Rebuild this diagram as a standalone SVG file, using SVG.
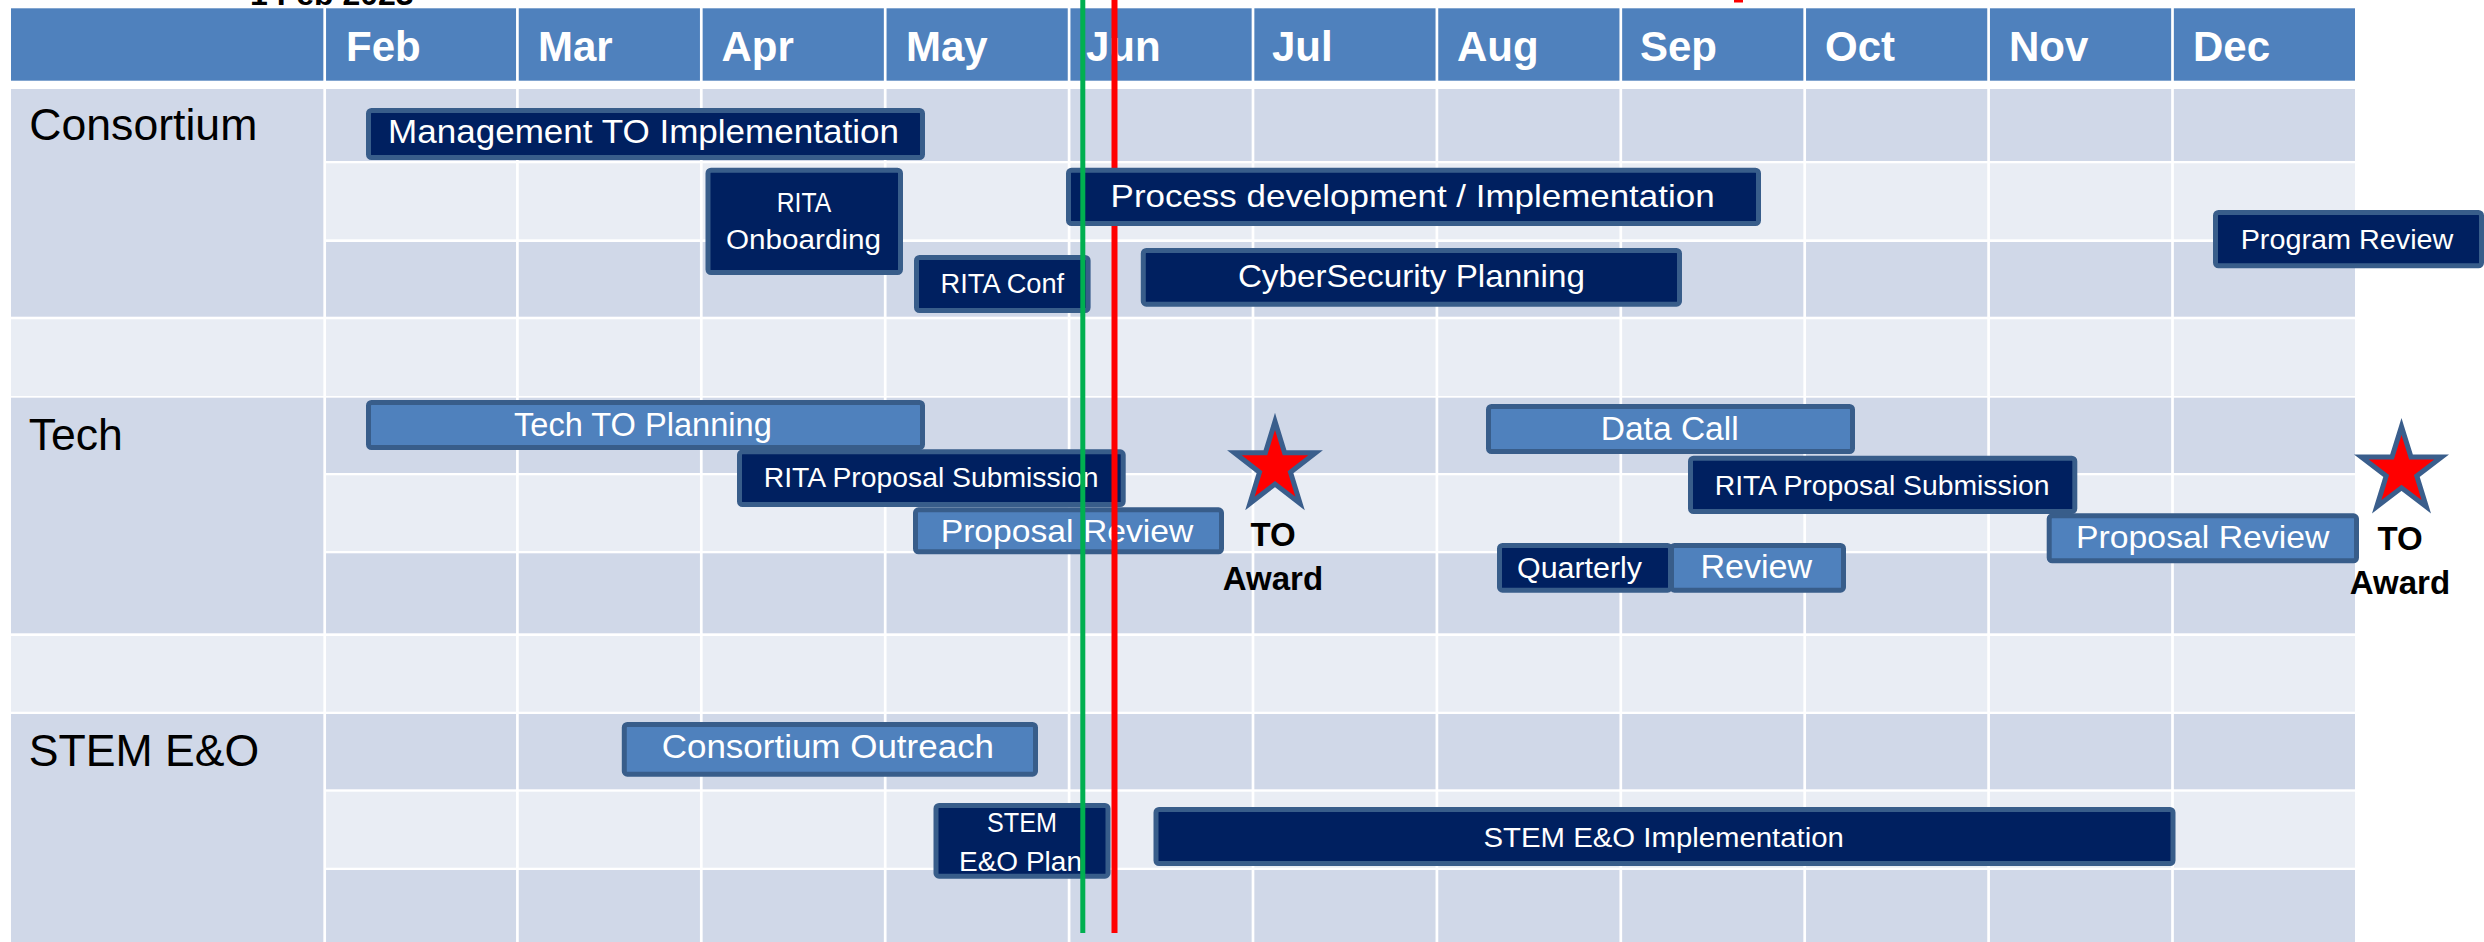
<svg xmlns="http://www.w3.org/2000/svg" width="2484" height="942" viewBox="0 0 2484 942">
<style>
.hdr{fill:#4F81BD}
.dk{fill:#D0D8E8}
.lt{fill:#E9EDF4}
.vl{stroke:#FFFFFF;stroke-width:2.7}
.mon{font-family:'Liberation Sans',Arial,sans-serif;font-weight:bold;font-size:42px;fill:#FFFFFF}
.sec{font-family:'Liberation Sans',Arial,sans-serif;font-size:44.6px;fill:#000000}
.nv{fill:#002060;stroke:#385D8A;stroke-width:5}
.bl{fill:#4F81BD;stroke:#385D8A;stroke-width:5}
.bt{font-family:'Liberation Sans',Arial,sans-serif;fill:#FFFFFF;text-anchor:middle}
.star{fill:#FF0000;stroke:#3A5E8C;stroke-width:5;stroke-linejoin:miter}
.aw{font-family:'Liberation Sans',Arial,sans-serif;font-weight:bold;font-size:33px;fill:#000000;text-anchor:middle}
</style>
<rect x="0" y="0" width="2484" height="942" fill="#FFFFFF"/>
<text x="250" y="5" style="font-family:'Liberation Sans',Arial,sans-serif;font-weight:bold;font-size:32px" fill="#000000">1 Feb 2023</text>
<rect x="1734" y="0" width="9" height="2.5" fill="#FF0000"/>
<g id="grid">
<rect class="hdr" x="11" y="8.3" width="2344" height="72.4"/>
<rect class="dk" x="11" y="89" width="313.7" height="227.7"/>
<rect class="dk" x="324.7" y="89" width="2030.3" height="72"/>
<rect class="lt" x="324.7" y="163.3" width="2030.3" height="76"/>
<rect class="dk" x="324.7" y="242" width="2030.3" height="74.7"/>
<rect class="lt" x="11" y="319.3" width="2344" height="76.7"/>
<rect class="dk" x="11" y="397.7" width="313.7" height="235.6"/>
<rect class="dk" x="324.7" y="397.7" width="2030.3" height="75.3"/>
<rect class="lt" x="324.7" y="475.3" width="2030.3" height="75.7"/>
<rect class="dk" x="324.7" y="553.3" width="2030.3" height="80"/>
<rect class="lt" x="11" y="636" width="2344" height="75.7"/>
<rect class="dk" x="11" y="714" width="313.7" height="228"/>
<rect class="dk" x="324.7" y="714" width="2030.3" height="75.3"/>
<rect class="lt" x="324.7" y="791.7" width="2030.3" height="76"/>
<rect class="dk" x="324.7" y="870" width="2030.3" height="72"/>
<g class="vl">
<line x1="324.7" y1="8" x2="324.7" y2="942"/>
<line x1="517.4" y1="8" x2="517.4" y2="942"/>
<line x1="701.3" y1="8" x2="701.3" y2="942"/>
<line x1="885.2" y1="8" x2="885.2" y2="942"/>
<line x1="1069.1" y1="8" x2="1069.1" y2="942"/>
<line x1="1253" y1="8" x2="1253" y2="942"/>
<line x1="1436.9" y1="8" x2="1436.9" y2="942"/>
<line x1="1620.8" y1="8" x2="1620.8" y2="942"/>
<line x1="1804.7" y1="8" x2="1804.7" y2="942"/>
<line x1="1988.6" y1="8" x2="1988.6" y2="942"/>
<line x1="2172.5" y1="8" x2="2172.5" y2="942"/>
</g>
<text class="mon" x="346" y="61">Feb</text>
<text class="mon" x="538" y="61">Mar</text>
<text class="mon" x="721.5" y="61">Apr</text>
<text class="mon" x="906" y="61">May</text>
<text class="mon" x="1086" y="61">Jun</text>
<text class="mon" x="1272" y="61">Jul</text>
<text class="mon" x="1457" y="61">Aug</text>
<text class="mon" x="1640" y="61">Sep</text>
<text class="mon" x="1825" y="61">Oct</text>
<text class="mon" x="2009" y="61">Nov</text>
<text class="mon" x="2193" y="61">Dec</text>
<text class="sec" x="29.3" y="140">Consortium</text>
<text class="sec" x="28.7" y="450">Tech</text>
<text class="sec" x="28.7" y="766">STEM E&amp;O</text>
</g>
<g id="mgmt-to-impl">
<rect class="nv" x="368.5" y="110.5" width="554" height="47" rx="3"/>
<text class="bt" x="643.5" y="143.3" font-size="33" textLength="511" lengthAdjust="spacingAndGlyphs">Management TO Implementation</text>
</g>
<g id="rita-onboarding">
<rect class="nv" x="708" y="170.2" width="192.5" height="102.3" rx="3"/>
<text class="bt" x="804" y="211.7" font-size="27" textLength="54.5" lengthAdjust="spacingAndGlyphs">RITA</text>
<text class="bt" x="803.5" y="249" font-size="27" textLength="155" lengthAdjust="spacingAndGlyphs">Onboarding</text>
</g>
<g id="rita-conf">
<rect class="nv" x="916.5" y="257.5" width="171.6" height="53" rx="3"/>
<text class="bt" x="1002.4" y="293.3" font-size="27" textLength="123.6" lengthAdjust="spacingAndGlyphs">RITA Conf</text>
</g>
<g id="cybersecurity-planning">
<rect class="nv" x="1143.3" y="250.5" width="536.2" height="53.7" rx="3"/>
<text class="bt" x="1411.4" y="286.7" font-size="32" textLength="347" lengthAdjust="spacingAndGlyphs">CyberSecurity Planning</text>
</g>
<g id="program-review">
<rect class="nv" x="2215.5" y="212.5" width="266" height="53.3" rx="3"/>
<text class="bt" x="2347" y="249.3" font-size="28" textLength="212.7" lengthAdjust="spacingAndGlyphs">Program Review</text>
</g>
<g id="tech-to-planning">
<rect class="bl" x="368.5" y="402.5" width="554" height="45" rx="3"/>
<text class="bt" x="642.9" y="436" font-size="33" textLength="257.7" lengthAdjust="spacingAndGlyphs">Tech TO Planning</text>
</g>
<g id="rita-proposal-submission-1">
<rect class="nv" x="739.5" y="451.8" width="383.7" height="52.7" rx="3"/>
<text class="bt" x="931.1" y="486.7" font-size="28" textLength="334.8" lengthAdjust="spacingAndGlyphs">RITA Proposal Submission</text>
</g>
<g id="proposal-review-1">
<rect class="bl" x="915.5" y="509.8" width="306" height="42" rx="3"/>
<text class="bt" x="1067" y="541.7" font-size="32" textLength="252.6" lengthAdjust="spacingAndGlyphs">Proposal Review</text>
</g>
<g id="data-call">
<rect class="bl" x="1488.5" y="406.5" width="364" height="45" rx="3"/>
<text class="bt" x="1669.7" y="440" font-size="33" textLength="138" lengthAdjust="spacingAndGlyphs">Data Call</text>
</g>
<g id="rita-proposal-submission-2">
<rect class="nv" x="1690.5" y="458.2" width="384.3" height="53.3" rx="3"/>
<text class="bt" x="1882.1" y="495" font-size="28" textLength="334.8" lengthAdjust="spacingAndGlyphs">RITA Proposal Submission</text>
</g>
<g id="proposal-review-2">
<rect class="bl" x="2049.2" y="515.8" width="307.3" height="45" rx="3"/>
<text class="bt" x="2202.7" y="548.3" font-size="32" textLength="253.3" lengthAdjust="spacingAndGlyphs">Proposal Review</text>
</g>
<g id="quarterly">
<rect class="nv" x="1499.5" y="545.5" width="171" height="44.7" rx="3"/>
<text class="bt" x="1579.5" y="578.3" font-size="29" textLength="125" lengthAdjust="spacingAndGlyphs">Quarterly</text>
</g>
<g id="review">
<rect class="bl" x="1671.5" y="545.5" width="172" height="44.7" rx="3"/>
<text class="bt" x="1756.2" y="578.3" font-size="33" textLength="111.6" lengthAdjust="spacingAndGlyphs">Review</text>
</g>
<g id="consortium-outreach">
<rect class="bl" x="624.3" y="724.5" width="411.2" height="49.7" rx="3"/>
<text class="bt" x="827.9" y="758.3" font-size="33" textLength="332.4" lengthAdjust="spacingAndGlyphs">Consortium Outreach</text>
</g>
<g id="stem-eo-plan">
<rect class="nv" x="936" y="805.5" width="172" height="70.7" rx="3"/>
<text class="bt" x="1022" y="832.3" font-size="27" textLength="70" lengthAdjust="spacingAndGlyphs">STEM</text>
<text class="bt" x="1020.5" y="871" font-size="27" textLength="123" lengthAdjust="spacingAndGlyphs">E&amp;O Plan</text>
</g>
<g id="stem-eo-implementation">
<rect class="nv" x="1156" y="809.5" width="1017" height="54" rx="3"/>
<text class="bt" x="1663.7" y="846.7" font-size="27" textLength="360.4" lengthAdjust="spacingAndGlyphs">STEM E&amp;O Implementation</text>
</g>
<g id="connectors">
<line id="today-red" x1="1114.5" y1="0" x2="1114.5" y2="933" stroke="#FF0000" stroke-width="6"/>
</g>
<g id="process-development">
<rect class="nv" x="1068.5" y="170.2" width="690" height="53.3" rx="3"/>
<text class="bt" x="1412.6" y="206.7" font-size="32" textLength="604" lengthAdjust="spacingAndGlyphs">Process development / Implementation</text>
</g>
<g id="markers">
<line id="start-green" x1="1082.8" y1="0" x2="1082.8" y2="933" stroke="#00B050" stroke-width="5"/>
</g>
<g id="to-award-1">
<polygon class="star" points="1275,421.4 1284.6,452.8 1315.6,452.8 1290.5,472.2 1300.1,503.5 1275,484.1 1249.9,503.5 1259.5,472.2 1234.4,452.8 1265.4,452.8"/>
<text class="aw" x="1273" y="546">TO</text>
<text class="aw" x="1273" y="590">Award</text>
</g>
<g id="to-award-2">
<polygon class="star" points="2401.5,426.4 2411,457.1 2441.6,457.1 2416.8,476 2426.3,506.7 2401.5,487.8 2376.7,506.7 2386.2,476 2361.4,457.1 2392,457.1"/>
<text class="aw" x="2400" y="550">TO</text>
<text class="aw" x="2400" y="594.3">Award</text>
</g>
</svg>
